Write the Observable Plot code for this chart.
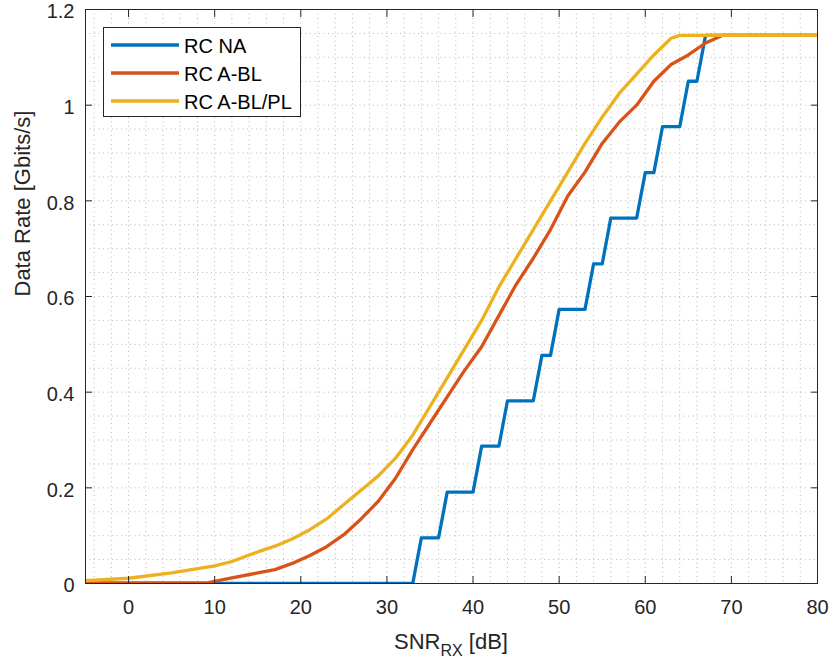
<!DOCTYPE html>
<html>
<head>
<meta charset="utf-8">
<script src="https://cdn.jsdelivr.net/npm/d3@7"></script>
<script src="https://cdn.jsdelivr.net/npm/@observablehq/plot@0.6"></script>
<style>
  html, body { margin: 0; padding: 0; background: white; }
  #wrap { position: relative; width: 832px; height: 663px; font-family: 'Liberation Sans', Arial, Helvetica, sans-serif; }
  #legend { position: absolute; left: 103px; top: 27px; width: 196px; height: 88px; border: 1px solid #262626; background: white; box-sizing: content-box; }
  .item { position: absolute; left: 0; height: 28px; width: 196px; }
  .item svg { position: absolute; left: 7px; top: 0; }
  .item span { position: absolute; left: 80px; top: 1px; font-size: 20px; line-height: 28px; color: #000; white-space: nowrap; }
</style>
</head>
<body>
<div id="wrap"></div>
<script>
// ---- data ----
const seriesNames = ["RC NA", "RC A-BL", "RC A-BL/PL"];
const seriesColors = ["#0072BD", "#D95319", "#EDB120"];

const naSNR  = [-5, 33, 34, 36, 37, 40, 41, 43, 44, 47, 48, 49, 50, 53, 54, 55, 56, 59, 60, 61, 62, 64, 65, 66, 67, 80];
const naRate = [0, 0, 0.0955, 0.0955, 0.191, 0.191, 0.287, 0.287, 0.382, 0.382, 0.477, 0.477, 0.573, 0.573, 0.668, 0.668, 0.764, 0.764, 0.859, 0.859, 0.955, 0.955, 1.05, 1.05, 1.146, 1.146];

const blSNR  = [-5, 9, 12, 15, 17, 19, 21, 23, 25, 27, 29, 31, 33, 35, 37, 39, 41, 43, 45, 47, 49, 51, 53, 55, 57, 59, 61, 63, 65, 67, 69, 80];
const blRate = [0.001, 0.001, 0.012, 0.022, 0.029, 0.042, 0.058, 0.077, 0.102, 0.135, 0.172, 0.22, 0.28, 0.335, 0.39, 0.445, 0.495, 0.56, 0.625, 0.68, 0.74, 0.81, 0.86, 0.92, 0.965, 1.0, 1.05, 1.085, 1.105, 1.13, 1.146, 1.146];

const plSNR  = [-5, 0, 5, 10, 12, 15, 17, 19, 21, 23, 25, 27, 29, 31, 33, 35, 37, 39, 41, 43, 45, 47, 49, 51, 53, 55, 57, 59, 61, 63, 64, 80];
const plRate = [0.006, 0.011, 0.022, 0.037, 0.046, 0.066, 0.078, 0.093, 0.112, 0.135, 0.165, 0.195, 0.225, 0.262, 0.31, 0.37, 0.43, 0.49, 0.55, 0.62, 0.68, 0.74, 0.80, 0.86, 0.92, 0.975, 1.025, 1.065, 1.105, 1.14, 1.146, 1.146];

const xTicks = [0, 10, 20, 30, 40, 50, 60, 70, 80];
const xTickLabels = ["0", "10", "20", "30", "40", "50", "60", "70", "80"];
const yTicks = [0, 0.2, 0.4, 0.6, 0.8, 1, 1.2];
const yTickLabels = ["0", "0.2", "0.4", "0.6", "0.8", "1", "1.2"];
const xGrid = [-4, -2, 0, 2, 4, 6, 8, 10, 12, 14, 16, 18, 20, 22, 24, 26, 28, 30, 32, 34, 36, 38, 40, 42, 44, 46, 48, 50, 52, 54, 56, 58, 60, 62, 64, 66, 68, 70, 72, 74, 76, 78];
const yGrid = [0.05, 0.1, 0.15, 0.2, 0.25, 0.3, 0.35, 0.4, 0.45, 0.5, 0.55, 0.6, 0.65, 0.7, 0.75, 0.8, 0.85, 0.9, 0.95, 1, 1.05, 1.1, 1.15];

const xLabelMain = "SNR";
const xLabelSub = "RX";
const xLabelTail = " [dB]";
const yLabel = "Data Rate [Gbits/s]";

// ---- build table ----
const rows = [];
[[naSNR, naRate], [blSNR, blRate], [plSNR, plRate]].forEach(([xs, ys], i) => {
  xs.forEach((x, j) => rows.push({series: seriesNames[i], snr: x, rate: ys[j]}));
});

const gridStyle = {stroke: "#b8b8b8", strokeOpacity: 1, strokeWidth: 1, strokeDasharray: "1,3.5"};
const fmtX = d => xTickLabels[xTicks.indexOf(d)];
const fmtY = d => yTickLabels[yTicks.indexOf(d)];

const chart = Plot.plot({
  width: 832,
  height: 663,
  marginLeft: 85,
  marginRight: 15,
  marginTop: 9,
  marginBottom: 80,
  style: {fontFamily: "'Liberation Sans', Arial, Helvetica, sans-serif", fontSize: "20px", color: "#262626", background: "white", overflow: "visible"},
  x: {domain: [-5, 80]},
  y: {domain: [0, 1.2]},
  color: {domain: seriesNames, range: seriesColors},
  marks: [
    Plot.gridX(xGrid, gridStyle),
    Plot.gridY(yGrid, gridStyle),
    Plot.line(rows, {x: "snr", y: "rate", z: "series", stroke: "series", strokeWidth: 3.3, clip: true, strokeLinejoin: "round"}),
    Plot.frame({stroke: "#262626", strokeWidth: 1}),
    Plot.axisX({ticks: xTicks, anchor: "bottom", tickSize: -7, tickFormat: () => "", label: null, stroke: "#262626"}),
    Plot.axisX({ticks: xTicks, anchor: "top", tickSize: -7, tickFormat: () => "", label: null, stroke: "#262626"}),
    Plot.axisY({ticks: yTicks, anchor: "left", tickSize: -7, tickFormat: () => "", label: null, stroke: "#262626"}),
    Plot.axisY({ticks: yTicks, anchor: "right", tickSize: -7, tickFormat: () => "", label: null, stroke: "#262626"}),
    Plot.axisX({ticks: xTicks, anchor: "bottom", tickSize: 0, tickPadding: 16, tickFormat: fmtX, label: null, fill: "#262626", fontSize: 20}),
    Plot.axisY({ticks: yTicks, anchor: "left", tickSize: 0, tickPadding: 11, dy: 2.5, tickFormat: fmtY, label: null, fill: "#262626", fontSize: 20}),
    Plot.text([yLabel], {frameAnchor: "left", dx: -63, rotate: -90, fontSize: 22, fill: "#262626"})
  ]
});

const wrap = document.getElementById("wrap");
wrap.appendChild(chart);

// x label with subscript
const svg = d3.select(chart);
const xl = svg.append("text")
  .attr("x", 451).attr("y", 649)
  .attr("text-anchor", "middle")
  .attr("fill", "#262626")
  .style("font-size", "22px")
  .style("font-family", "'Liberation Sans', Arial, Helvetica, sans-serif");
xl.append("tspan").text(xLabelMain);
xl.append("tspan").attr("dy", 7).style("font-size", "16px").text(xLabelSub);
xl.append("tspan").attr("dy", -7).text(xLabelTail);

// legend
const legend = document.createElement("div");
legend.id = "legend";
seriesNames.forEach((name, i) => {
  const it = document.createElement("div");
  it.className = "item";
  it.style.top = (3 + i * 28) + "px";
  it.innerHTML = `<svg width="68" height="28"><line x1="0" x2="68" y1="14" y2="14" stroke="${seriesColors[i]}" stroke-width="3.3"/></svg><span>${name}</span>`;
  legend.appendChild(it);
});
wrap.appendChild(legend);
</script>
</body>
</html>
